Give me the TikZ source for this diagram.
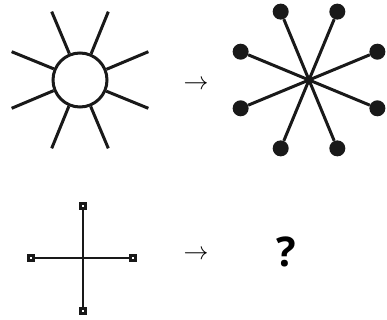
\documentclass[tikz,border=0pt]{standalone}
\usepackage{fontspec}
\newfontfamily\qfont{Open Sans}
\usetikzlibrary{calc, positioning}

\tikzset{
    ray/.style={line width=3pt, black!90},
    blob/.style={circle, fill=black!90, inner sep=0pt, minimum size=16pt},
    tipbox/.style={draw=black!90, fill=white, line width=2.6pt, inner sep=0pt, minimum size=5.4pt}
}

\begin{document}
\begin{tikzpicture}[x=1pt, y=-1pt]
        \useasboundingbox (0,0) rectangle (387,320);

        % sun
        \node[draw=black!90, line width=3pt, circle, minimum size=54pt, inner sep=0pt] (sun) at (80,80) {};
        \foreach \a [count=\i] in {22.5,67.5,...,337.5} {
            \coordinate (ray\i) at ($(sun.center)+(\a:74pt)$);
            \draw[ray] (sun.\a) -- (ray\i);
        }

        \node (arrA) at (196,85) {\fontsize{27}{30}\selectfont$\rightarrow$};

        % star with dots
        \coordinate (hub) at (309,80);
        \foreach \a [count=\i] in {22.5,67.5,...,337.5} {
            \node[blob] (dot\i) at ($(hub)+(\a:74pt)$) {};
            \draw[ray] (hub) -- (dot\i);
        }

        % cross
        \node[tipbox] (tN) at (83,206) {};
        \node[tipbox] (tS) at (83,311) {};
        \node[tipbox] (tW) at (31,258) {};
        \node[tipbox] (tE) at (133,258) {};
        \draw[line width=2.5pt, black!90] (tN) -- (tS);
        \draw[line width=2.5pt, black!90] (tW) -- (tE);

        \node (arrB) at (196,255) {\fontsize{27}{30}\selectfont$\rightarrow$};

        \node (quest) at (286,252) {\qfont\bfseries\fontsize{41}{44}\selectfont ?};
\end{tikzpicture}
\end{document}
